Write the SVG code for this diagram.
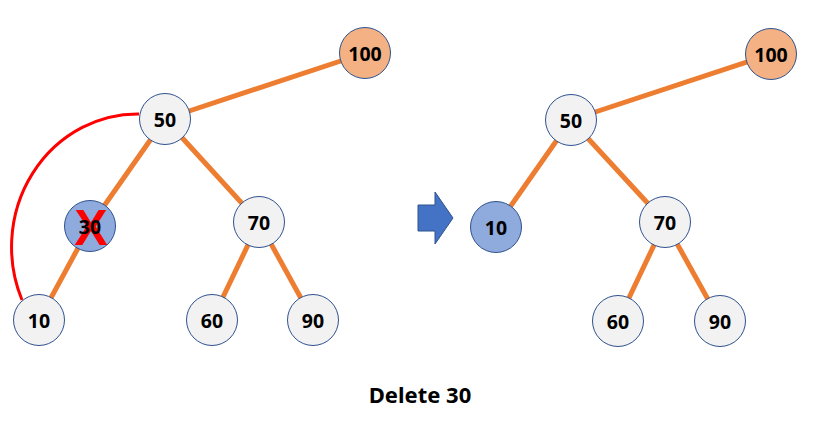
<svg xmlns="http://www.w3.org/2000/svg" width="836" height="426" viewBox="0 0 836 426">
<style>
.edge{stroke:#ED7D31;stroke-width:5;fill:none}
.n{fill:#F2F2F2;stroke:#2F528F;stroke-width:1}
.root{fill:#F4B183;stroke:#2F528F;stroke-width:1}
.sel{fill:#8FAADC;stroke:#2F528F;stroke-width:1}
.t{font-family:"Noto Sans","Liberation Sans",sans-serif;font-weight:bold;font-size:19.5px;fill:#000;text-anchor:middle;dominant-baseline:central}
</style>
<rect width="836" height="426" fill="#fff"/>
<g id="connectors">
<line class="edge" x1="365" y1="53" x2="165" y2="119"/>
<line class="edge" x1="165" y1="119" x2="90" y2="226"/>
<line class="edge" x1="165" y1="119" x2="259" y2="222"/>
<line class="edge" x1="90" y1="226" x2="39" y2="320"/>
<line class="edge" x1="259" y1="222" x2="212" y2="320"/>
<line class="edge" x1="259" y1="222" x2="313" y2="320"/>
<path d="M139,114 A126,133 0 0 0 22,300" stroke="#FF0000" stroke-width="3" fill="none"/>
<line class="edge" x1="771" y1="54" x2="571" y2="120"/>
<line class="edge" x1="571" y1="120" x2="496" y2="227"/>
<line class="edge" x1="571" y1="120" x2="665" y2="222"/>
<line class="edge" x1="665" y1="222" x2="618" y2="321"/>
<line class="edge" x1="665" y1="222" x2="720" y2="321"/>
</g>
<g id="L100"><circle class="root" cx="365" cy="53" r="25.5"/><text class="t" x="365" y="53">100</text></g>
<g id="L50"><circle class="n" cx="165" cy="119" r="25.5"/><text class="t" x="165" y="119">50</text></g>
<g id="L30"><circle class="sel" cx="90" cy="226" r="25.5"/><text x="91" y="245" font-family="Liberation Sans,sans-serif" font-weight="bold" font-size="50" fill="#FF0000" text-anchor="middle">X</text><text class="t" x="90" y="226">30</text></g>
<g id="L10"><circle class="n" cx="39" cy="320" r="25.5"/><text class="t" x="39" y="320">10</text></g>
<g id="L70"><circle class="n" cx="259" cy="222" r="25.5"/><text class="t" x="259" y="222">70</text></g>
<g id="L60"><circle class="n" cx="212" cy="320" r="25.5"/><text class="t" x="212" y="320">60</text></g>
<g id="L90"><circle class="n" cx="313" cy="320" r="25.5"/><text class="t" x="313" y="320">90</text></g>
<g id="arrow"><path d="M418,205 H435 V192 L453,218 L435,244 V231 H418 Z" fill="#4472C4" stroke="#2F528F" stroke-width="1"/></g>
<g id="R100"><circle class="root" cx="771" cy="54" r="25.5"/><text class="t" x="771" y="54">100</text></g>
<g id="R50"><circle class="n" cx="571" cy="120" r="25.5"/><text class="t" x="571" y="120">50</text></g>
<g id="R10"><circle class="sel" cx="496" cy="227" r="25.5"/><text class="t" x="496" y="227">10</text></g>
<g id="R70"><circle class="n" cx="665" cy="222" r="25.5"/><text class="t" x="665" y="222">70</text></g>
<g id="R60"><circle class="n" cx="618" cy="321" r="25.5"/><text class="t" x="618" y="321">60</text></g>
<g id="R90"><circle class="n" cx="720" cy="321" r="25.5"/><text class="t" x="720" y="321">90</text></g>
<text x="420" y="403" font-family="Noto Sans,Liberation Sans,sans-serif" font-weight="bold" font-size="22" fill="#000" text-anchor="middle">Delete 30</text>
</svg>
